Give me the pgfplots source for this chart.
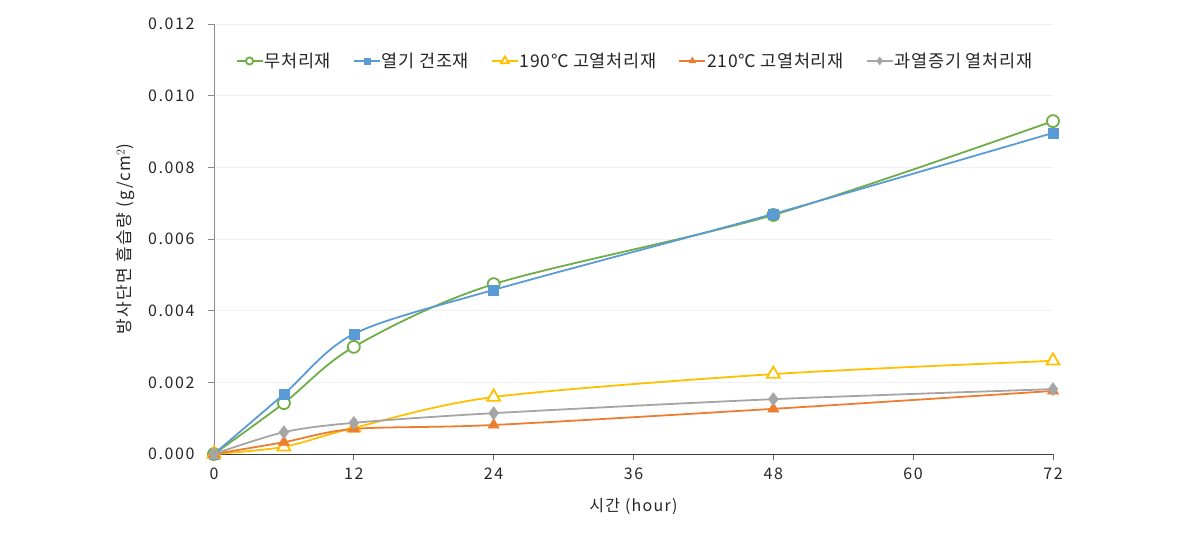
\documentclass[border=0pt]{standalone}
\usepackage{fontspec}
\setmainfont{Noto Sans CJK KR}
\newfontfamily\lblfont[LetterSpace=8]{Noto Sans CJK KR}
\newfontfamily\tickfont[LetterSpace=10]{Noto Sans CJK KR}
\newfontfamily\legfont[LetterSpace=4]{Noto Sans CJK KR}
\usepackage{pgfplots}
\pgfplotsset{compat=1.18}
\definecolor{cgreen}{HTML}{70AD47}
\definecolor{cblue}{HTML}{5B9BD5}
\definecolor{cyellow}{HTML}{FFC000}
\definecolor{corange}{HTML}{ED7D31}
\definecolor{cgray}{HTML}{A5A5A5}
\begin{document}
\fontsize{16}{19}\selectfont
\begin{tikzpicture}
\begin{axis}[
  scale only axis,
  width=839pt, height=430pt,
  xmin=0, xmax=72, ymin=0, ymax=0.012,
  xtick={0,12,24,36,48,60,72},
  ytick={0,0.002,0.004,0.006,0.008,0.010,0.012},
  scaled y ticks=false,
  yticklabel style={/pgf/number format/fixed,/pgf/number format/fixed zerofill,/pgf/number format/precision=3},
  /pgf/number format/assume math mode=true,
  axis x line*=bottom, axis y line*=left,
  x axis line style={-, draw=black!75, line width=0.9pt},
  y axis line style={-, draw=black!45, line width=0.9pt},
  tick align=outside,
  major tick length=6pt,
  x tick style={draw=black!60, line width=0.8pt},
  y tick style={draw=black!45, line width=0.8pt},
  ymajorgrids, grid style={draw=black!6, line width=0.6pt},
  tick label style={font=\tickfont\fontsize{16}{19}\selectfont, text=black!85},
  xticklabel style={yshift=-2pt},
  yticklabel style={xshift=-8pt},
  xlabel={시간 (hour)},
  ylabel={방사단면 흡습량 (g/cm$^2$)},
  label style={text=black!85},
  xlabel style={font=\lblfont\fontsize{16}{19}\selectfont, yshift=-8pt},
  ylabel style={font=\lblfont\fontsize{17}{20}\selectfont, yshift=2pt},
  clip mode=individual,
  legend columns=5,
  legend style={at={(rel axis cs:0.022,0.914)}, anchor=west, draw=none, fill=none,
    font=\legfont\fontsize{17.5}{20}\selectfont, text=black!85,
    /tikz/every even column/.append style={column sep=20pt},
    /tikz/every odd column/.append style={column sep=-1pt}},
  legend cell align=left,
  legend image code/.code={%
    \draw[mark repeat=2,mark phase=2,#1,/tikz/every mark/.append style={scale=0.6}]
      plot coordinates {(0pt,0pt) (13pt,0pt) (26pt,0pt)};},
  every axis plot/.append style={line width=1.8pt, smooth, tension=0.5},
]
\addplot[color=cgreen, mark=*, mark size=6pt, mark options={fill=white, line width=1.8pt}]
  coordinates {(0,0) (6,0.00142) (12,0.00299) (24,0.00474) (48,0.00667) (72,0.00929)};
\addlegendentry{무처리재}
\addplot[color=cblue, mark=square*, mark size=5pt, mark options={fill=cblue, line width=0.5pt}]
  coordinates {(0,0) (6,0.00167) (12,0.00335) (24,0.00458) (48,0.00670) (72,0.00896)};
\addlegendentry{열기 건조재}
\addplot[color=cyellow, mark=triangle*, mark size=7.5pt, mark options={fill=white, line width=1.8pt}]
  coordinates {(0,0) (6,0.00020) (12,0.00073) (24,0.00159) (48,0.00223) (72,0.00260)};
\addlegendentry{190℃ 고열처리재}
\addplot[color=corange, mark=triangle*, mark size=6.5pt, mark options={fill=corange, line width=0.5pt}]
  coordinates {(0,0) (6,0.00033) (12,0.00070) (24,0.00081) (48,0.00126) (72,0.00176)};
\addlegendentry{210℃ 고열처리재}
\addplot[color=cgray, mark=diamond*, mark size=6.5pt, mark options={fill=cgray, line width=0.5pt}]
  coordinates {(0,0) (6,0.00061) (12,0.00087) (24,0.00114) (48,0.00153) (72,0.00181)};
\addlegendentry{과열증기 열처리재}
\end{axis}
\path (current axis.south west) ++(-214pt,-81pt) rectangle ++(1193pt,535pt);
\end{tikzpicture}
\end{document}
